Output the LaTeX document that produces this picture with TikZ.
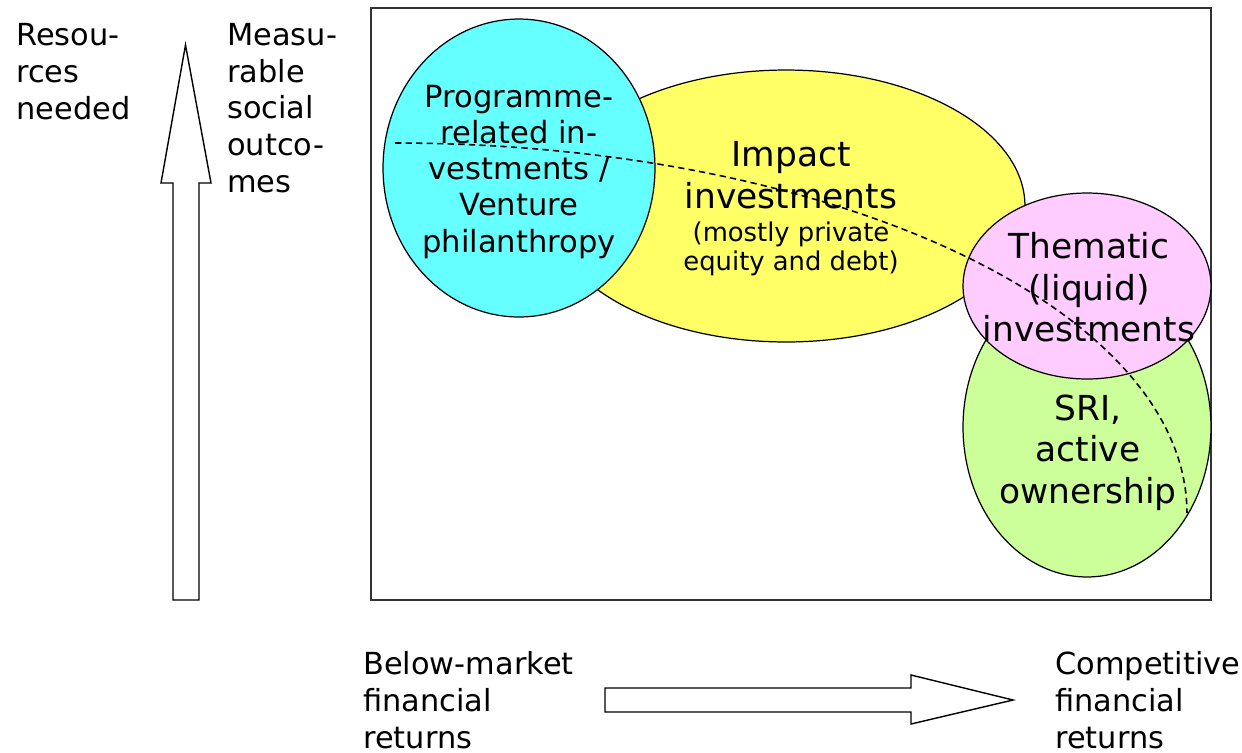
\documentclass[tikz,border=0pt]{standalone}
\usepackage{fontspec}
\setmainfont{DejaVu Sans}
\usetikzlibrary{shapes.geometric}
\definecolor{cyanfill}{RGB}{102,255,255}
\definecolor{yellowfill}{RGB}{255,255,102}
\definecolor{pinkfill}{RGB}{255,204,255}
\definecolor{greenfill}{RGB}{204,255,153}
\tikzset{
  blob/.style={ellipse, draw=black, line width=0.7pt, inner sep=0pt},
  axislabel/.style={inner sep=0pt, align=left, font=\fontsize{17.3}{20.8}\selectfont},
  midtext/.style={inner sep=0pt, align=center, font=\fontsize{17.4}{20.5}\selectfont},
  bigtext/.style={inner sep=0pt, align=center, font=\fontsize{19.6}{23.7}\selectfont},
  smalltext/.style={inner sep=0pt, align=center, font=\fontsize{14.7}{16.1}\selectfont},
  fatarrow/.style={draw=black, line width=0.8pt, fill=white, line join=miter},
  boundary/.style={draw=black, line width=0.9pt, dash pattern=on 3.6pt off 2.4pt}
}
\begin{document}
\begin{tikzpicture}[x=0.02cm, y=-0.02cm]
\useasboundingbox (0,0) rectangle (1242,752);
% frame
\draw[line width=1.1pt, draw=black!80] (371,8) rectangle (1211,600);
% ellipses
\node[blob, fill=yellowfill, minimum width=9.56cm, minimum height=5.44cm] (impact) at (786,206) {};
\node[blob, fill=cyanfill, minimum width=5.44cm, minimum height=5.96cm] (pri) at (519,168) {};
\node[blob, fill=greenfill, minimum width=4.96cm, minimum height=6.0cm] (sri) at (1087,427) {};
\node[blob, fill=pinkfill, minimum width=4.96cm, minimum height=3.72cm] (thematic) at (1087,286) {};
% texts in ellipses (base anchor = baseline of last line)
\node[midtext, anchor=base] (pritext) at (519,252) {Programme-\\related in-\\vestments /\\Venture\\philanthropy};
\node[bigtext, anchor=base] (impacttext) at (791,208.3) {Impact\\investments};
\node[smalltext, anchor=base] (impactsub) at (791,270) {(mostly private\\equity and debt)};
\node[bigtext, anchor=base] (thematictext) at (1089,341.7) {Thematic\\(liquid)\\investments};
\node[bigtext, anchor=base] (sritext) at (1088,503.3) {SRI,\\active\\ownership};
% dashed boundary
\draw[boundary] plot[domain=-90:0, samples=80, smooth] ({395+792*cos(\x)},{513+370*sin(\x)});
% vertical arrow
\draw[fatarrow] (173,600) -- (173,183) -- (161,183) -- (185.5,45) -- (211,183) -- (199,183) -- (199,600) -- cycle;
% horizontal arrow
\draw[fatarrow] (605,688) -- (911,688) -- (911,675) -- (1013,700) -- (911,724) -- (911,712) -- (605,712) -- cycle;
% axis labels
\node[axislabel, anchor=base west] (resources) at (16,119) {Resou-\\rces\\needed};
\node[axislabel, anchor=base west] (measurable) at (227,192) {Measu-\\rable\\social\\outco-\\mes};
\node[axislabel, anchor=base west] (below) at (363,748) {Below-market\\financial\\returns};
\node[axislabel, anchor=base west] (competitive) at (1055,748) {Competitive\\financial\\returns};
\end{tikzpicture}
\end{document}
